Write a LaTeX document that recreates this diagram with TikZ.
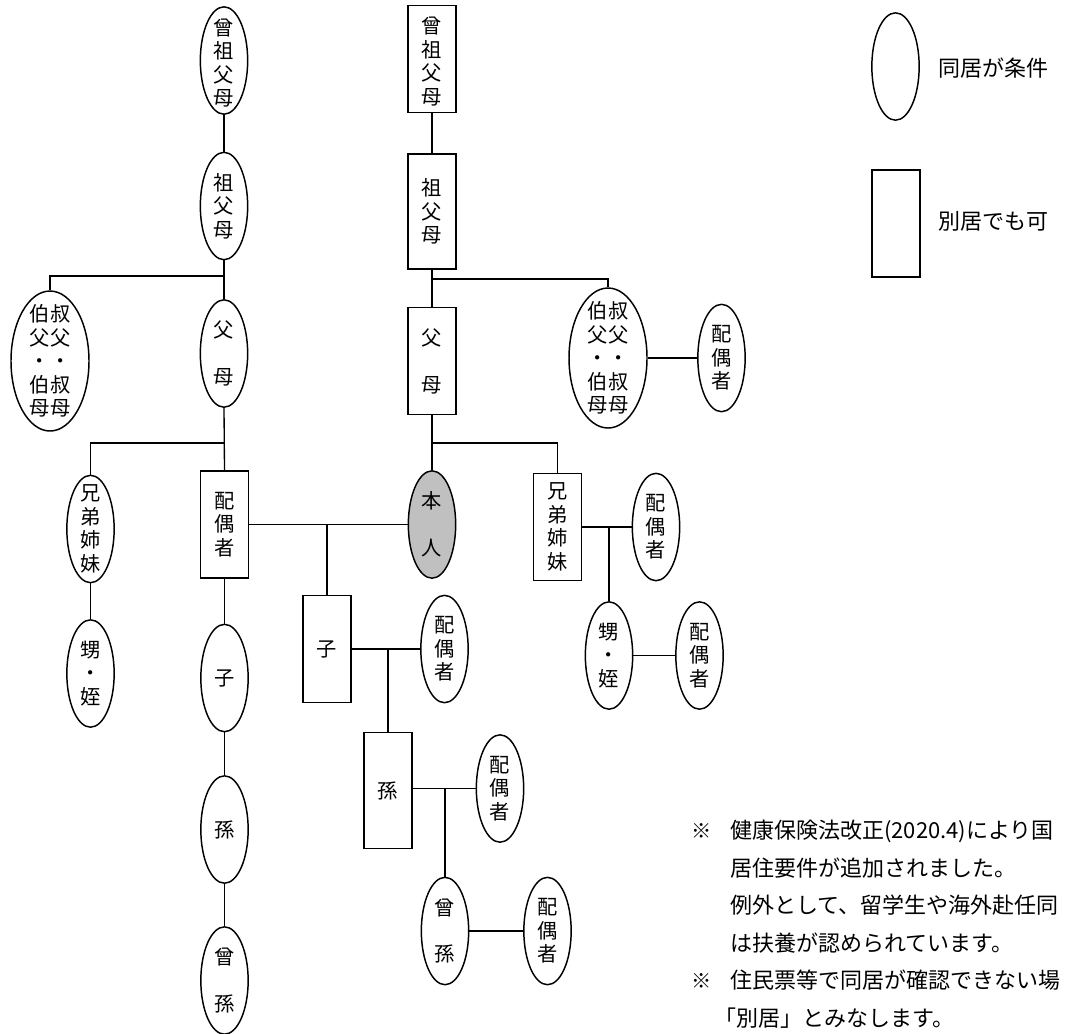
\documentclass[tikz,border=0pt]{standalone}
\usepackage{fontspec}
\usetikzlibrary{shapes.geometric}
\newfontfamily\jp{Noto Sans CJK JP}
\begin{document}
\begin{tikzpicture}[x=0.75pt,y=-0.75pt,
  oval/.style={draw, ellipse, line width=1.1pt, minimum width=35.5pt, minimum height=80.5pt, inner sep=0pt},
  rbox/.style={draw, rectangle, line width=1.1pt, minimum width=36pt, minimum height=80.5pt, inner sep=0pt},
  lbl/.style={align=center, inner sep=0pt, font=\jp\fontsize{15.2}{17.6}\selectfont},
  notetxt/.style={anchor=west, inner sep=0pt, font=\jp\fontsize{16.5}{18}\selectfont},
  legtxt/.style={anchor=west, inner sep=0pt, font=\jp\fontsize{16.5}{18}\selectfont},
  link/.style={line width=1pt}]
\useasboundingbox (0,0) rectangle (1069,1033);
\clip (0,0) rectangle (1069,1033);
\fill[white] (0,0) rectangle (1069,1033);

% ---- left family (spouse side)
\node[oval] (a1) at (224,60.5) {};
\node[lbl] (a1t) at ([yshift=-2pt]a1.center) {曾\\祖\\父\\母};
\node[oval] (a2) at (224,206) {};
\node[lbl] (a2t) at (a2) {祖\\父\\母};
\node[oval] (a3) at (224,353.5) {};
\node[lbl] (a3t) at (a3) {父\\[17.6pt]母};
\node[oval, minimum width=58.5pt, minimum height=105pt] (a4) at (50,361) {};
\node[lbl] (a4t) at (a4) {伯叔\\父父\\・・\\伯叔\\母母};
\node[rbox] (a5) at (224.5,524.5) {};
\node[lbl] (a5t) at (a5) {配\\偶\\者};
\node[oval] (a6) at (90.5,529) {};
\node[lbl] (a6t) at (a6) {兄\\弟\\姉\\妹};
\node[oval] (a7) at (90.5,673.5) {};
\node[lbl] (a7t) at (a7) {甥\\・\\姪};
\node[oval] (a8) at (224.5,678) {};
\node[lbl] (a8t) at (a8) {子};
\node[oval] (a9) at (224.5,829.5) {};
\node[lbl] (a9t) at (a9) {孫};
\node[oval] (a10) at (224.5,980.5) {};
\node[lbl] (a10t) at (a10) {曾\\[17.6pt]孫};

% ---- right family (self side)
\node[rbox] (b1) at (432,59) {};
\node[lbl] (b1t) at ([yshift=-2pt]b1.center) {曾\\祖\\父\\母};
\node[rbox, minimum height=86pt] (b2) at (432,211.5) {};
\node[lbl] (b2t) at (b2) {祖\\父\\母};
\node[rbox] (b3) at (432,361) {};
\node[lbl] (b3t) at (b3) {父\\[17.6pt]母};
\node[oval, minimum width=58.5pt, minimum height=105pt] (b4) at (608,358) {};
\node[lbl] (b4t) at (b4) {伯叔\\父父\\・・\\伯叔\\母母};
\node[oval] (b5) at (721.5,358) {};
\node[lbl] (b5t) at (b5) {配\\偶\\者};
\node[oval, fill={rgb,255:red,192;green,192;blue,192}] (b6) at (432,524.5) {};
\node[lbl] (b6t) at (b6) {本\\[17.6pt]人};
\node[rbox] (b7) at (557.5,527) {};
\node[lbl] (b7t) at (b7) {兄\\弟\\姉\\妹};
\node[oval] (b8) at (656,527) {};
\node[lbl] (b8t) at (b8) {配\\偶\\者};
\node[oval] (b9) at (609,655.5) {};
\node[lbl] (b9t) at (b9) {甥\\・\\姪};
\node[oval] (b10) at (699.5,655.5) {};
\node[lbl] (b10t) at (b10) {配\\偶\\者};

% ---- descendants
\node[rbox] (c1) at (327,649) {};
\node[lbl] (c1t) at (c1) {子};
\node[oval] (c2) at (444.5,649) {};
\node[lbl] (c2t) at (c2) {配\\偶\\者};
\node[rbox, minimum height=87pt] (c3) at (388,790.5) {};
\node[lbl] (c3t) at (c3) {孫};
\node[oval] (c4) at (500,788.5) {};
\node[lbl] (c4t) at (c4) {配\\偶\\者};
\node[oval] (c5) at (445,931) {};
\node[lbl] (c5t) at (c5) {曾\\[17.6pt]孫};
\node[oval] (c6) at (547.5,931) {};
\node[lbl] (c6t) at (c6) {配\\偶\\者};

% ---- junction points
\coordinate (j1) at (224,276);
\coordinate (j2) at (432,279);
\coordinate (j3) at (224.5,443);
\coordinate (j4) at (432,443);
\coordinate (j5) at (327,524.5);
\coordinate (j6) at (388,649);
\coordinate (j7) at (445,788.5);
\coordinate (j8) at (609,527);

% ---- connectors
\draw[link] (a1.south) -- (a2.north);
\draw[link] (a2.south) -- (a3.north);
\draw[link] (j1) -| (a4.north);
\draw[link] (a3.south) -- (a5.north);
\draw[link] (j3) -| (a6.north);
\draw[link] (a6.south) -- (a7.north);
\draw[link] (a5.south) -- (a8.north);
\draw[link] (a8.south) -- (a9.north);
\draw[link] (a9.south) -- (a10.north);

\draw[link] (b1.south) -- (b2.north);
\draw[link] (b2.south) -- (b3.north);
\draw[link] (j2) -| (b4.north);
\draw[link] (b4.east) -- (b5.west);
\draw[link] (b3.south) -- (b6.north);
\draw[link] (j4) -| (b7.north);
\draw[link] (b7.east) -- (b8.west);
\draw[link] (j8) -- (b9.north);
\draw[link] (b9.east) -- (b10.west);

\draw[link] (a5.east) -- (b6.west);
\draw[link] (j5) -- (c1.north);
\draw[link] (c1.east) -- (c2.west);
\draw[link] (j6) -- (c3.north);
\draw[link] (c4.west -| c3.east) -- (c4.west);
\draw[link] (j7) -- (c5.north);
\draw[link] (c5.east) -- (c6.west);

% ---- legend
\node[oval] (l1) at (895.5,66.5) {};
\node[legtxt] (l1t) at (938,68) {同居が条件};
\node[rbox] (l2) at (896,223.5) {};
\node[legtxt] (l2t) at (938,221) {別居でも可};

% ---- notes (cut at the right edge, as in the reference)
\node[lbl] (m1) at (702,831) {※};
\node[notetxt] (n1) at (730,831) {健康保険法改正(2020.4)により国};
\node[notetxt] (n2) at (730,868) {居住要件が追加されました。};
\node[notetxt] (n3) at (730,905.5) {例外として、留学生や海外赴任同};
\node[notetxt] (n4) at (730,943) {は扶養が認められています。};
\node[lbl] (m2) at (702,980.5) {※};
\node[notetxt] (n5) at (730,980.5) {住民票等で同居が確認できない場};
\node[notetxt] (n6) at (714,1018) {「別居」とみなします。};
\end{tikzpicture}
\end{document}
